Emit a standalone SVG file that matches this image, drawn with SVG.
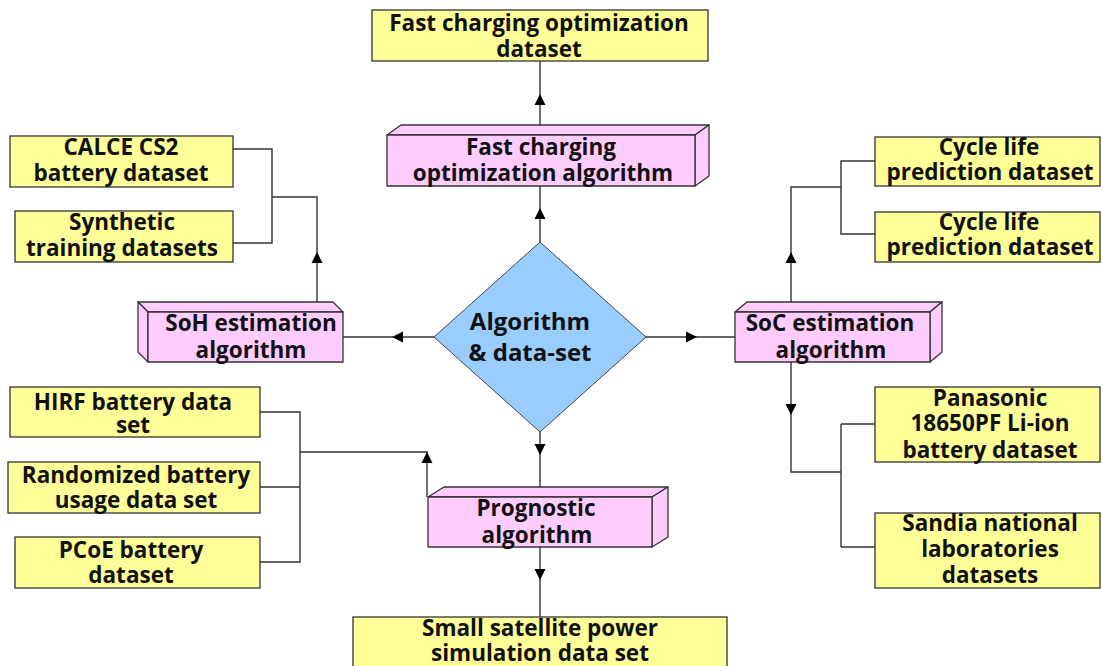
<svg xmlns="http://www.w3.org/2000/svg" width="1103" height="666" viewBox="0 0 1103 666">
<style>
.ds{fill:#FFFF99;stroke:#333;stroke-width:1.3}
.al{fill:#FFCCFF;stroke:#333;stroke-width:1.3;stroke-linejoin:round}
.dm{fill:#99CCFF;stroke:#444;stroke-width:1}
.ln{fill:none;stroke:#333;stroke-width:1.4}
text{font-family:"Open Sans","Liberation Sans",sans-serif;font-weight:bold;font-size:22.5px;fill:#111;text-anchor:middle}
.big{font-size:24px}
</style>
<defs>
<polygon id="ah" points="0,0 -5.5,11 5.5,11" fill="#000"/>
</defs>
<rect width="1103" height="666" fill="#fff"/>
<g id="connectors">
<path class="ln" d="M540,61V125M540,186V242M434,337H343M646,337H735M540,432V487M427,497V452H300M260,412H300V562H260M260,487H300M233,149H272V243H233M272,197H317V302M875,161H841V234H875M841,187H791V302M791,362V472H841M841,424V547M841,424H875M841,547H875M540,547V617"/>
<use href="#ah" x="540" y="94"/>
<use href="#ah" x="540" y="208"/>
<use href="#ah" transform="translate(392,337) rotate(-90)"/>
<use href="#ah" transform="translate(697,337) rotate(90)"/>
<use href="#ah" transform="translate(540,455) rotate(180)"/>
<use href="#ah" x="427" y="452"/>
<use href="#ah" x="317" y="252"/>
<use href="#ah" x="791" y="252"/>
<use href="#ah" transform="translate(791,415) rotate(180)"/>
<use href="#ah" transform="translate(540,580) rotate(180)"/>
</g>
<g id="fc-dataset"><rect class="ds" x="372" y="10" width="336" height="51"/><text><tspan x="539" y="31">Fast charging optimization</tspan><tspan x="539" y="57">dataset</tspan></text></g>
<g id="fc-algo"><polygon class="al" points="387,135 401,125 709,125 695,135"/><polygon class="al" points="695,135 709,125 709,176 695,186"/><rect class="al" x="387" y="135" width="308" height="51"/><text><tspan x="541" y="155">Fast charging</tspan><tspan x="543" y="181">optimization algorithm</tspan></text></g>
<g id="soh-algo"><polygon class="al" points="148,312 138,302 333,302 343,312"/><polygon class="al" points="148,312 138,302 138,352 148,362"/><rect class="al" x="148" y="312" width="195" height="50"/><text><tspan x="251" y="331">SoH estimation</tspan><tspan x="251" y="358">algorithm</tspan></text></g>
<g id="soc-algo"><polygon class="al" points="735,312 747,302 942,302 930,312"/><polygon class="al" points="930,312 942,302 942,352 930,362"/><rect class="al" x="735" y="312" width="195" height="50"/><text><tspan x="830" y="331">SoC estimation</tspan><tspan x="831" y="358">algorithm</tspan></text></g>
<g id="prog-algo"><polygon class="al" points="428,497 444,487 668,487 652,497"/><polygon class="al" points="652,497 668,487 668,537 652,547"/><rect class="al" x="428" y="497" width="224" height="50"/><text><tspan x="536" y="516">Prognostic</tspan><tspan x="537" y="543">algorithm</tspan></text></g>
<g id="center"><polygon class="dm" points="540,242 646,337 540,432 434,337"/><text class="big"><tspan x="530" y="330">Algorithm</tspan><tspan x="530" y="361">&amp; data-set</tspan></text></g>
<g id="calce"><rect class="ds" x="10" y="136" width="223" height="51"/><text><tspan x="121" y="155">CALCE CS2</tspan><tspan x="121" y="181">battery dataset</tspan></text></g>
<g id="synthetic"><rect class="ds" x="15" y="211" width="218" height="51"/><text><tspan x="122" y="230">Synthetic</tspan><tspan x="122" y="256">training datasets</tspan></text></g>
<g id="hirf"><rect class="ds" x="10" y="387" width="250" height="50"/><text><tspan x="133" y="410">HIRF battery data</tspan><tspan x="133" y="433">set</tspan></text></g>
<g id="randomized"><rect class="ds" x="8" y="462" width="252" height="51"/><text><tspan x="136" y="483">Randomized battery</tspan><tspan x="136" y="508">usage data set</tspan></text></g>
<g id="pcoe"><rect class="ds" x="15" y="537" width="245" height="51"/><text><tspan x="131" y="558">PCoE battery</tspan><tspan x="131" y="583">dataset</tspan></text></g>
<g id="cycle1"><rect class="ds" x="875" y="137" width="225" height="49"/><text><tspan x="989" y="155">Cycle life</tspan><tspan x="990" y="180">prediction dataset</tspan></text></g>
<g id="cycle2"><rect class="ds" x="875" y="212" width="225" height="50"/><text><tspan x="989" y="230">Cycle life</tspan><tspan x="990" y="255">prediction dataset</tspan></text></g>
<g id="panasonic"><rect class="ds" x="875" y="387" width="225" height="75"/><text><tspan x="990" y="406">Panasonic</tspan><tspan x="990" y="431">18650PF Li-ion</tspan><tspan x="990" y="458">battery dataset</tspan></text></g>
<g id="sandia"><rect class="ds" x="875" y="513" width="225" height="75"/><text><tspan x="990" y="531">Sandia national</tspan><tspan x="990" y="557">laboratories</tspan><tspan x="990" y="583">datasets</tspan></text></g>
<g id="satellite"><rect class="ds" x="353" y="617" width="374" height="60"/><text><tspan x="540" y="636">Small satellite power</tspan><tspan x="540" y="661">simulation data set</tspan></text></g>
</svg>
